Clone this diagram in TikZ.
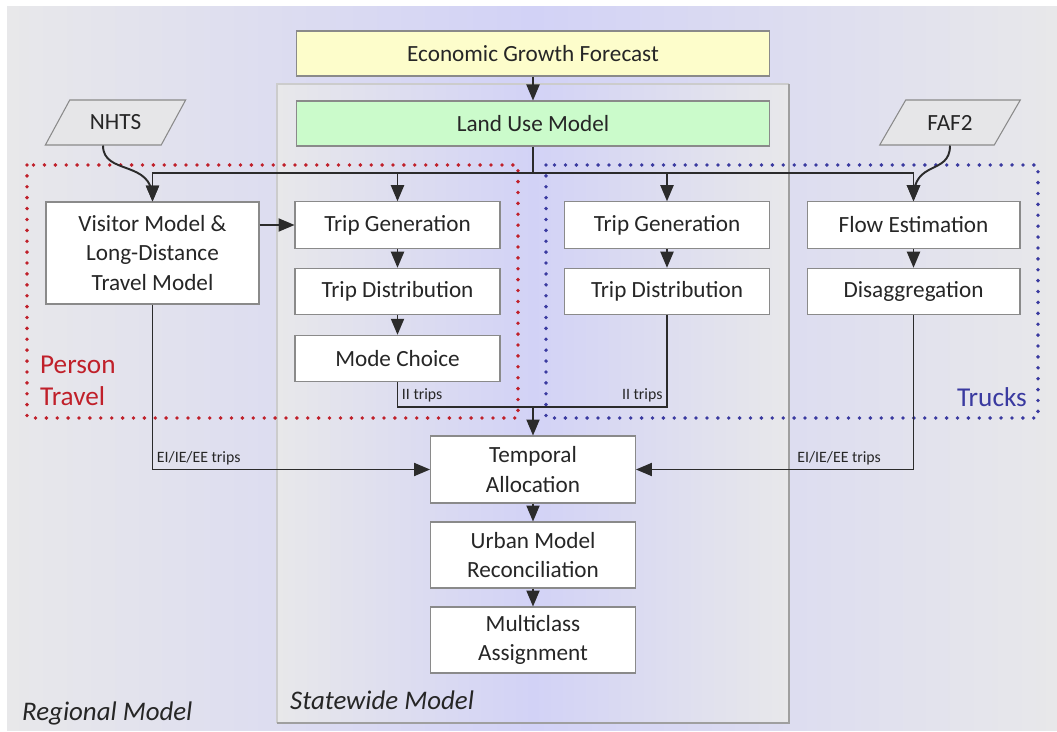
\documentclass[tikz,border=0pt]{standalone}
\usepackage{fontspec}
\setmainfont{Carlito}
\usetikzlibrary{arrows}
\usetikzlibrary{shapes.geometric, positioning, calc}
\definecolor{bggray}{HTML}{E8E8EA}
\definecolor{bglav}{HTML}{D2D2F6}
\definecolor{boxline}{HTML}{8A8A8A}
\definecolor{arrline}{HTML}{2B2B2B}
\definecolor{econfill}{HTML}{FDFDCB}
\definecolor{landfill}{HTML}{CBFBCB}
\definecolor{datafill}{HTML}{E6E6E8}
\definecolor{persred}{HTML}{C0202A}
\definecolor{truckblue}{HTML}{3A3AA0}
\definecolor{txt}{HTML}{262626}

\begin{document}
\begin{tikzpicture}[x=0.02cm, y=-0.02cm,
    stepbox/.style={draw=boxline, fill=white, line width=0.6pt, text=txt, align=center,
      minimum width=4.1cm, minimum height=0.93cm, inner sep=1pt,
      font=\fontsize{13.2}{17}\selectfont},
    widebox/.style={stepbox, minimum width=9.48cm, minimum height=0.9cm},
    databox/.style={trapezium, trapezium left angle=58, trapezium right angle=122,
      trapezium stretches=true, draw=boxline, fill=datafill, line width=0.6pt, text=txt,
      minimum width=2.82cm, minimum height=0.9cm, font=\fontsize{13.2}{17}\selectfont},
    conn/.style={draw=arrline, line width=1.1pt},
    arr/.style={conn, -triangle 45},
    lbl/.style={text=txt, font=\fontsize{9}{10}\selectfont, inner sep=2pt},
    frame/.style={line width=2.2pt, line cap=round, dash pattern=on 0pt off 6.2pt},
    biglbl/.style={font=\fontsize{15.5}{18.2}\selectfont, align=left}]
  \useasboundingbox (0,0) rectangle (1057,732);

  % regional and statewide areas
  \fill[left color=bggray, right color=bggray, middle color=bglav] (7,7) rectangle (1057,730);
  \fill[left color=bggray, right color=bggray, middle color=bglav] (277,84) rectangle (789,723);
  \draw[gray!40, line width=0.6pt] (277,723) -- (277,84) -- (789,84);
  \draw[gray!75, line width=0.8pt] (789,84) -- (789,723) -- (277,723);

  \node[biglbl, anchor=west, text=txt, font=\fontsize{15.3}{18}\selectfont\itshape] (regional) at (16,713) {Regional Model};
  \node[biglbl, anchor=west, text=txt, font=\fontsize{15.3}{18}\selectfont\itshape] (statewide) at (284,700) {Statewide Model};

  % person travel and truck frames
  \draw[frame, persred] (27,165) rectangle (518,418);
  \draw[frame, truckblue] (546,165) rectangle (1038,418);
  \node[biglbl, anchor=west, text=persred] (person) at (34,381) {Person\\Travel};
  \node[biglbl, anchor=east, text=truckblue] (trucks) at (1033,397) {Trucks};

  % boxes
  \node[widebox, fill=econfill] (econ) at (533,53.5) {Economic Growth Forecast};
  \node[widebox, fill=landfill] (landuse) at (533,123.5) {Land Use Model};
  \node[databox] (nhts) at (115.5,122.5) {NHTS};
  \node[databox] (faf) at (950,122.5) {FAF2};

  \node[stepbox, minimum width=4.26cm, minimum height=2.04cm] (visitor) at (152.5,253) {Visitor Model \&\\Long-Distance\\Travel Model};
  \node[stepbox] (tg1) at (397.5,225) {Trip Generation};
  \node[stepbox] (td1) at (397.5,291.5) {Trip Distribution};
  \node[stepbox] (mc) at (397.5,358.5) {Mode Choice};
  \node[stepbox] (tg2) at (667,225) {Trip Generation};
  \node[stepbox] (td2) at (667,291.5) {Trip Distribution};
  \node[stepbox, minimum width=4.26cm] (flow) at (913.5,225) {Flow Estimation};
  \node[stepbox, minimum width=4.26cm] (disag) at (913.5,291.5) {Disaggregation};

  \node[stepbox, minimum height=1.34cm] (temporal) at (533,469.5) {Temporal\\Allocation};
  \node[stepbox, minimum height=1.32cm] (urban) at (533,555) {Urban Model\\Reconciliation};
  \node[stepbox, minimum height=1.32cm] (multi) at (533,640) {Multiclass\\Assignment};

  % connectors
  \coordinate (bus) at (533,173);
  \coordinate (merge) at (533,407);
  \draw[arr] (econ) -- (landuse);
  \draw[conn] (landuse.south) -- (bus);
  \draw[arr] (bus) -| (visitor.north);
  \draw[arr] (bus) -| (flow.north);
  \draw[arr] (tg1.north |- bus) -- (tg1.north);
  \draw[arr] (tg2.north |- bus) -- (tg2.north);
  \draw[arr] (nhts.bottom side) .. controls +(0,30) and +(0,-42) .. (visitor.north);
  \draw[arr] (faf.south) .. controls +(0,30) and +(0,-42) .. (flow.north);

  \draw[arr] (visitor.east |- tg1) -- (tg1.west);
  \draw[arr] (tg1) -- (td1);
  \draw[arr] (td1) -- (mc);
  \draw[arr] (tg2) -- (td2);
  \draw[arr] (flow) -- (disag);

  \draw[conn] (mc.south) |- node[lbl, pos=0.5, anchor=south west] (ii1) {II trips} (merge);
  \draw[conn] (td2.south) |- node[lbl, pos=0.5, anchor=south east] (ii2) {II trips} (merge);
  \draw[arr] (merge) -- (temporal.north);
  \draw[arr] (visitor.south) |- node[lbl, pos=0.5, anchor=south west] (ei1) {EI/IE/EE trips} (temporal.west);
  \draw[arr] (disag.south) |- node[lbl, pos=0.5, anchor=south east, xshift=-16] (ei2) {EI/IE/EE trips} (temporal.east);

  \draw[arr] (temporal) -- (urban);
  \draw[arr] (urban) -- (multi);
\end{tikzpicture}
\end{document}
